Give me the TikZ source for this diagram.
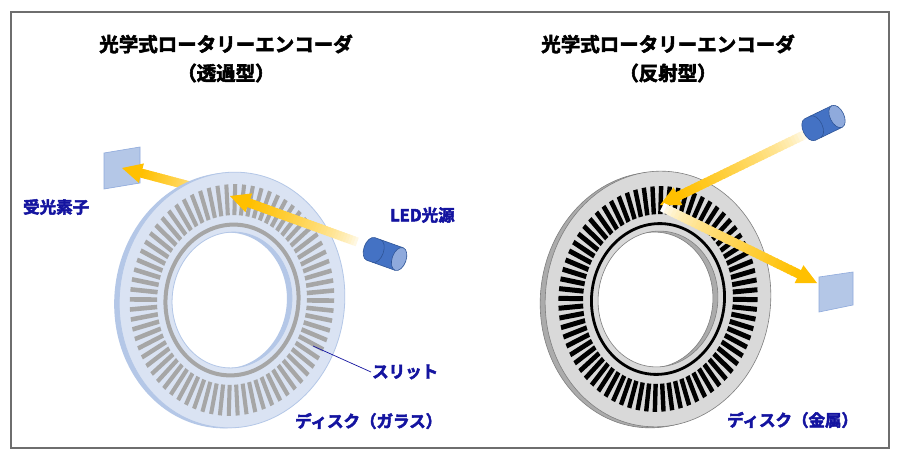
\documentclass[tikz,border=0pt]{standalone}
\usepackage{fontspec}
\newfontfamily\jp{Noto Sans CJK JP Bold}[FakeBold=3]
\usetikzlibrary{calc}
\definecolor{ylw}{HTML}{FFC000}
\definecolor{tblue}{RGB}{20,20,160}
\definecolor{framegray}{HTML}{6E6E6E}
\definecolor{faceblue}{HTML}{DAE3F3}
\definecolor{rimblue}{HTML}{B4C7E7}
\definecolor{edgeblue}{HTML}{B4C7E7}
\definecolor{slitgray}{HTML}{A6A6A6}
\definecolor{facegray}{HTML}{D9D9D9}
\definecolor{rimgray}{HTML}{ABABAB}
\definecolor{edgegray}{HTML}{7F7F7F}
\definecolor{ledbody}{HTML}{4472C4}
\definecolor{ledline}{HTML}{2F5597}
\definecolor{ledface}{HTML}{8FAADC}
\definecolor{sensfill}{HTML}{B4C7E7}
\definecolor{sensline}{HTML}{8FAADC}
\newcommand{\garrow}[3]{%
  \path ($(#2)!20pt!(#1)$) coordinate (hb);
  \foreach \i in {0,...,39}{
    \pgfmathsetmacro{\fa}{\i/40}
    \pgfmathsetmacro{\fb}{(\i+1.5)/40}
    \pgfmathtruncatemacro{\pc}{#3+(100-#3)*((\i/39)^0.6)}
    \draw[line width=9pt, color=ylw!\pc!white] ($(#1)!\fa!(hb)$) -- ($(#1)!\fb!(hb)$);
  }
  \fill[ylw] (#2) -- ($(hb)!10pt!90:(#2)$) -- ($(hb)!10pt!-90:(#2)$) -- cycle;
}
\newcommand{\ledcyl}{%
  \fill[ledbody] (-15,0) ellipse (7 and 12);
  \fill[ledbody] (-15,-12) rectangle (15,12);
  \draw[ledline, line width=0.6pt] (-15,-12) -- (15,-12) (-15,12) -- (15,12);
  \draw[ledline, line width=0.6pt] (-15,-12) arc[start angle=-90, end angle=-270, x radius=7, y radius=12];
  \draw[ledline, line width=0.6pt] (-9,-12) arc[start angle=-90, end angle=90, x radius=7, y radius=12];
  \filldraw[fill=ledface, draw=ledline, line width=0.6pt] (15,0) ellipse (7 and 12);
}
\begin{document}
\begin{tikzpicture}[x=1pt,y=-1pt,
  lbl/.style={font=\jp\fontsize{16.5}{20}\selectfont, text=tblue, inner sep=1pt},
  ttl/.style={font=\jp\fontsize{19.5}{24}\selectfont, inner sep=0pt},
  sensor/.style={fill=sensfill, draw=sensline, line width=0.6pt}]
\fill[white] (0,0) rectangle (900,460);
\useasboundingbox (0,0) rectangle (900,460);
\draw[framegray, line width=1.5pt] (11,12) rectangle (889,448);

% titles
\node[ttl] (t1a) at (226,44) {光学式ロータリーエンコーダ};
\node[ttl] (t1b) at (226,73) {（透過型）};
\node[ttl] (t2a) at (668,44) {光学式ロータリーエンコーダ};
\node[ttl] (t2b) at (668,73) {（反射型）};

% coordinates of beams
\coordinate (a1t) at (360,243);
\coordinate (a1h) at (230,196);
\coordinate (a2t) at (205,190);
\coordinate (a2h) at (122,168);
\coordinate (b1t) at (808,133);
\coordinate (b1h) at (660,205);
\coordinate (b2t) at (662,207);
\coordinate (b2h) at (817,283);

% left sensor
\draw[sensor] (104,153) -- (140,147) -- (140,183) -- (104,189) -- cycle;
\garrow{a2t}{a2h}{20}

% left disk (glass)
\begin{scope}[shift={(227,300.5)}, rotate=-6, xscale=0.88]
  \fill[rimblue, even odd rule] (0,0) circle (128) (0,0) circle (68);
\end{scope}
\begin{scope}[shift={(232,300)}, rotate=-6, xscale=0.88]
  \filldraw[fill=faceblue, draw=edgeblue, line width=0.8pt, even odd rule] (0,0) circle (128) (0,0) circle (68);
  \draw[slitgray, line width=4pt] (0,0) circle (75.5);
  \foreach \a in {0,5,...,355} \fill[slitgray, rotate=\a] (85,-2.3) rectangle (116,2.3);
\end{scope}

% right disk (metal)
\begin{scope}[shift={(653,300)}, rotate=-6, xscale=0.88]
  \filldraw[fill=rimgray, draw=edgegray, line width=0.6pt, even odd rule] (0,0) circle (128) (0,0) circle (68);
\end{scope}
\begin{scope}[shift={(658,299)}, rotate=-6, xscale=0.88]
  \filldraw[fill=facegray, draw=edgegray, line width=0.6pt, even odd rule] (0,0) circle (128) (0,0) circle (68);
  \draw[black, line width=2.8pt] (0,0) circle (75.5);
  \foreach \a in {0,5,...,355} \fill[black, rotate=\a] (85,-2.5) rectangle (113,2.5);
\end{scope}

% right sensor
\draw[sensor] (819,277) -- (853,272) -- (853,305) -- (819,312) -- cycle;

% beams over disks
\garrow{a1t}{a1h}{0}
\garrow{b1t}{b1h}{0}
\garrow{b2t}{b2h}{0}

% LEDs
\begin{scope}[shift={(385,254)}, rotate=-19.6]
  \ledcyl
\end{scope}
\begin{scope}[shift={(823.5,123)}, rotate=25.8]
  \ledcyl
\end{scope}

% labels
\node[lbl, anchor=west] (rx) at (22,207) {受光素子};
\node[lbl, anchor=west] (led) at (389,215) {LED光源};
\node[lbl, anchor=west] (slit) at (371,372) {スリット};
\coordinate (slitpt) at (313,346);
\draw[tblue, line width=0.7pt] (slitpt) -- (slit.west);
\node[lbl, anchor=west] (dg) at (294,421) {ディスク（ガラス）};
\node[lbl, anchor=west] (dm) at (726,420) {ディスク（金属）};
\end{tikzpicture}
\end{document}
